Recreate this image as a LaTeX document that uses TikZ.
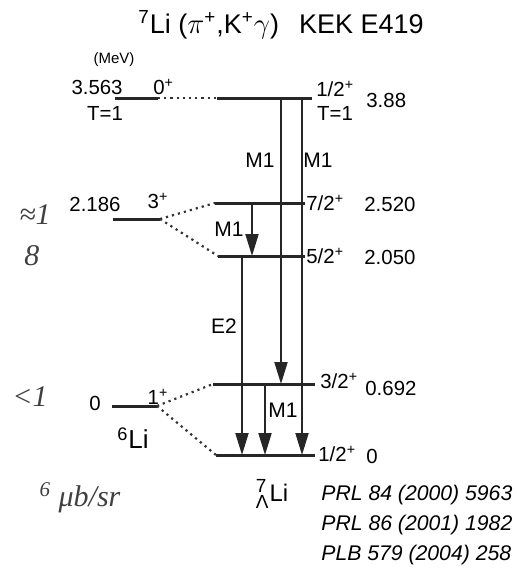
\documentclass[tikz,border=0pt]{standalone}
\usepackage{fontspec}
\setmainfont{Liberation Sans}
\newfontfamily\handfont{Liberation Serif}
\usetikzlibrary{arrows.meta}

\tikzset{
    level/.style={line width=1.5pt, draw=black!85},
    link/.style={dotted, line width=1.1pt, draw=black!80},
    gam/.style={line width=1pt, draw=black!85, -{Triangle[length=11pt,width=6.5pt]}},
    lab/.style={font=\fontsize{10.2}{12}\selectfont, inner sep=0pt},
    mlab/.style={font=\fontsize{10.5}{12}\selectfont, inner sep=0pt},
    hand/.style={font=\handfont\itshape\fontsize{15}{17}\selectfont, inner sep=0pt, black!75}
}

\begin{document}
\begin{tikzpicture}[x=0.5pt, y=-0.5pt]
    \useasboundingbox (0,0) rectangle (516,578);

    % Title
    \node[font=\fontsize{13.5}{16}\selectfont, inner sep=0pt] (title) at (281,25)
        {\textsuperscript{7}Li ($\pi$\textsuperscript{+},K\textsuperscript{+}$\gamma$)\hspace{10pt}KEK E419};
    \node[font=\fontsize{7.5}{9}\selectfont, inner sep=0pt] (unit) at (114,60) {(MeV)};

    % 6Li core levels
    \coordinate (c3L) at (115,98);  \coordinate (c3R) at (158,98);
    \coordinate (c2L) at (113,219); \coordinate (c2R) at (160,219);
    \coordinate (c0L) at (112,406); \coordinate (c0R) at (157,406);
    \draw[level] (c3L) -- (c3R);
    \draw[level] (c2L) -- (c2R);
    \draw[level] (c0L) -- (c0R);

    % 7Li hypernucleus levels
    \coordinate (h4L) at (217,98);  \coordinate (h4R) at (312,98);
    \coordinate (h3L) at (215,203); \coordinate (h3R) at (305,203);
    \coordinate (h2L) at (218,256); \coordinate (h2R) at (305,256);
    \coordinate (h1L) at (213,384); \coordinate (h1R) at (315,384);
    \coordinate (h0L) at (216,455); \coordinate (h0R) at (315,455);
    \draw[level] (h4L) -- (h4R);
    \draw[level] (h3L) -- (h3R);
    \draw[level] (h2L) -- (h2R);
    \draw[level] (h1L) -- (h1R);
    \draw[level] (h0L) -- (h0R);

    % Dotted links
    \draw[link] (c3R) -- (h4L);
    \draw[link] (c2R) -- (h3L);
    \draw[link] (c2R) -- (h2L);
    \draw[link] (c0R) -- (h1L);
    \draw[link] (c0R) -- (h0L);

    % Arrows
    \coordinate (xE) at (242,0);
    \coordinate (xA) at (252,0);
    \coordinate (xB) at (265,0);
    \coordinate (xC) at (281,0);
    \coordinate (xD) at (302,0);
    \draw[gam] (xE |- h2L) -- (xE |- h0L);
    \draw[gam] (xA |- h3L) -- (xA |- h2L);
    \draw[gam] (xB |- h1L) -- (xB |- h0L);
    \draw[gam] (xC |- h4L) -- (xC |- h1L);
    \draw[gam] (xD |- h4L) -- (xD |- h0L);
    \node[mlab] (mC) at (260,160) {M1};
    \node[mlab] (mD) at (318,160) {M1};
    \node[mlab] (mA) at (229,229) {M1};
    \node[mlab] (mE) at (224,326) {E2};
    \node[mlab] (mB) at (283,410) {M1};

    % Core labels
    \node[lab, anchor=south east] (e3) at (123,95) {3.563};
    \node[lab, anchor=south west] (j3) at (153,95) {0\textsuperscript{+}};
    \node[lab] (t3) at (105,113) {T=1};
    \node[lab] (e2) at (95,204) {2.186};
    \node[lab] (j2) at (158,201) {3\textsuperscript{+}};
    \node[lab] (e0) at (95,403) {0};
    \node[lab] (j0) at (158,397) {1\textsuperscript{+}};
    \node[font=\fontsize{13}{15}\selectfont, inner sep=0pt] (core) at (133,438) {\textsuperscript{6}Li};

    % Hypernucleus labels
    \node[lab, anchor=south west] (j4) at (316,97) {1/2\textsuperscript{+}};
    \node[lab] (t4) at (335,113) {T=1};
    \node[lab, anchor=west] (e4) at (366,100) {3.88};
    \node[lab, anchor=west] (j3h) at (306,203) {7/2\textsuperscript{+}};
    \node[lab, anchor=west] (e3h) at (364,204) {2.520};
    \node[lab, anchor=west] (j2h) at (306,256) {5/2\textsuperscript{+}};
    \node[lab, anchor=west] (e2h) at (364,257) {2.050};
    \node[lab, anchor=west] (j1h) at (320,381) {3/2\textsuperscript{+}};
    \node[lab, anchor=west] (e1h) at (365,388) {0.692};
    \node[lab, anchor=west] (j0h) at (318,454) {1/2\textsuperscript{+}};
    \node[lab, anchor=west] (e0h) at (366,456) {0};
    \node[font=\fontsize{12}{14}\selectfont, inner sep=0pt] (hyp) at (272,494)
        {$^{\mbox{\fontsize{9.5}{10}\selectfont 7}}_{\mbox{\fontsize{9.5}{10}\selectfont Λ}}$Li};

    % References
    \node[font=\itshape\fontsize{10.6}{15}\selectfont, align=left, anchor=north west, inner sep=0pt] (refs) at (321,485)
        {PRL 84 (2000) 5963\\PRL 86 (2001) 1982\\PLB 579 (2004) 258};

    % Handwritten notes
    \node[hand] (n1) at (35,215) {≈1};
    \node[hand] (n2) at (32,256) {8};
    \node[hand] (n3) at (30,397) {<1};
    \node[hand] (n4) at (80,498) {\textsuperscript{6} μb/sr};
\end{tikzpicture}
\end{document}
